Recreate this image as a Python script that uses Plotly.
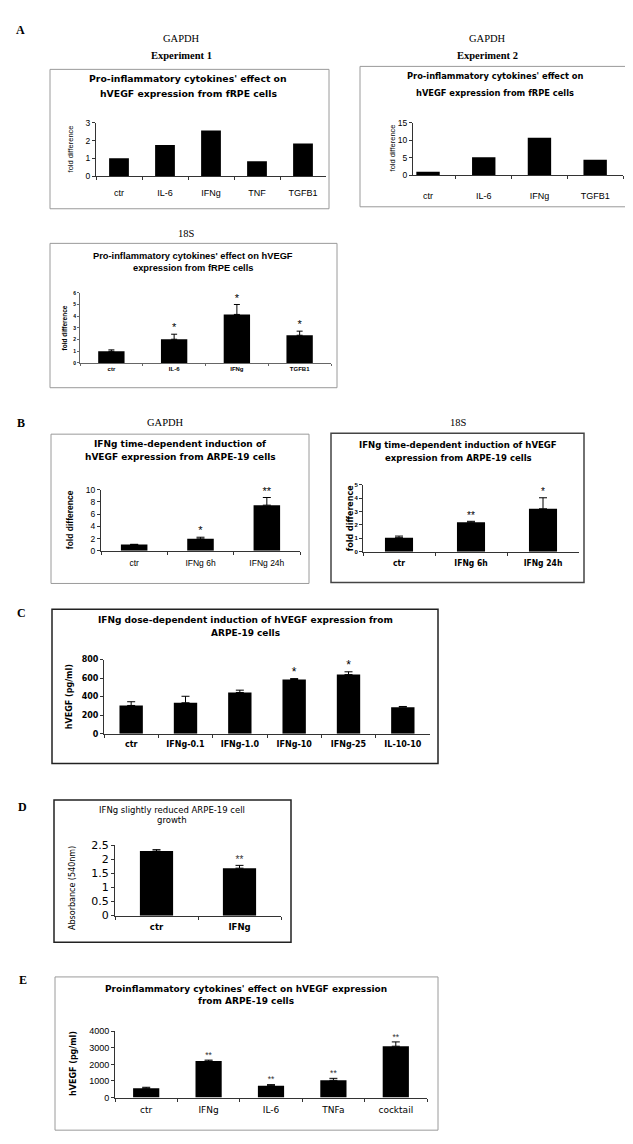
import plotly.graph_objects as go

W, H = 633, 1144

# ---------------- data ----------------
A1_categories = ["ctr", "IL-6", "IFNg", "TNF", "TGFB1"]
A1_values = [1.0, 1.75, 2.57, 0.83, 1.83]

A2_categories = ["ctr", "IL-6", "IFNg", "TGFB1"]
A2_values = [1.0, 5.1, 10.7, 4.4]

A3_categories = ["ctr", "IL-6", "IFNg", "TGFB1"]
A3_values = [1.0, 2.03, 4.15, 2.37]
A3_errors = [0.12, 0.43, 0.85, 0.35]
A3_sig = ["", "*", "*", "*"]

B1_categories = ["ctr", "IFNg 6h", "IFNg 24h"]
B1_values = [1.05, 1.95, 7.45]
B1_errors = [0.0, 0.27, 1.25]
B1_sig = ["", "*", "**"]

B2_categories = ["ctr", "IFNg 6h", "IFNg 24h"]
B2_values = [1.05, 2.2, 3.2]
B2_errors = [0.12, 0.07, 0.82]
B2_sig = ["", "**", "*"]

C_categories = ["ctr", "IFNg-0.1", "IFNg-1.0", "IFNg-10", "IFNg-25", "IL-10-10"]
C_values = [305, 334, 445, 585, 638, 287]
C_errors = [40, 70, 25, 10, 30, 7]
C_sig = ["", "", "", "*", "*", ""]

D_categories = ["ctr", "IFNg"]
D_values = [2.3, 1.69]
D_errors = [0.05, 0.1]
D_sig = ["", "**"]

E_categories = ["ctr", "IFNg", "IL-6", "TNFa", "cocktail"]
E_values = [560, 2200, 720, 1040, 3100]
E_errors = [60, 60, 60, 120, 260]
E_sig = ["", "**", "**", "**", "**"]

SANS = "Liberation Sans, Arial, sans-serif"
DJV = "DejaVu Sans, Verdana, sans-serif"
NARROW = "Liberation Sans Narrow, DejaVu Sans Condensed, Arial Narrow, sans-serif"
SERIF = "Liberation Serif, Times New Roman, serif"


def X(px):
    return px / W


def Y(py):
    return 1 - py / H


def F(size, family=SANS, bold=False, color="black"):
    return dict(size=size, family=family, color=color,
                weight="bold" if bold else "normal")


fig = go.Figure()
annotations = []
shapes = []
layout_axes = {}


def add_panel(i, cats, vals, errs, sig, xdom, ydom, yrange, dtick, xrange,
              barw, tickfont, catfont, capw=3, ticklen=3, catstand=0,
              sigfont=None, axcolor="#333"):
    xa = "x" if i == 1 else f"x{i}"
    ya = "y" if i == 1 else f"y{i}"
    xkey = "xaxis" if i == 1 else f"xaxis{i}"
    ykey = "yaxis" if i == 1 else f"yaxis{i}"
    bar = go.Bar(
        x=cats, y=vals, xaxis=xa, yaxis=ya, width=barw,
        marker=dict(color="black", line=dict(width=0)),
        showlegend=False,
    )
    if errs is not None:
        bar.error_y = dict(type="data", array=errs, arrayminus=[0] * len(errs),
                           symmetric=False, color="black", thickness=1, width=capw)
    fig.add_trace(bar)
    if sig is not None:
        fig.add_trace(go.Scatter(
            x=cats, y=[v + e for v, e in zip(vals, errs)], xaxis=xa, yaxis=ya,
            mode="text", text=sig, textposition="top center",
            textfont=sigfont, cliponaxis=False, showlegend=False,
            hoverinfo="skip"))
    layout_axes[xkey] = dict(
        domain=[X(xdom[0]), X(xdom[1])], anchor=ya, type="category",
        range=xrange, showline=True, linecolor=axcolor, linewidth=1,
        ticks="outside", tickson="boundaries", ticklen=ticklen,
        tickcolor=axcolor, tickfont=catfont, showgrid=False, zeroline=False,
        fixedrange=True, ticklabelstandoff=catstand)
    layout_axes[ykey] = dict(
        domain=[Y(ydom[1]), Y(ydom[0])], anchor=xa, range=yrange,
        dtick=dtick, tick0=0, showline=True, linecolor=axcolor, linewidth=1,
        ticks="outside", ticklen=ticklen, tickcolor=axcolor, tickfont=tickfont,
        showgrid=False, zeroline=False, fixedrange=True)


def text(x, y, s, font, angle=0):
    annotations.append(dict(
        x=X(x), y=Y(y), xref="paper", yref="paper", text=s, showarrow=False,
        xanchor="center", yanchor="middle", textangle=angle, font=font))


def box(x0, y0, x1, y1, color, width=1):
    shapes.append(dict(type="rect", xref="paper", yref="paper",
                       x0=X(x0), x1=X(x1), y0=Y(y1), y1=Y(y0),
                       line=dict(color=color, width=width), fillcolor="rgba(0,0,0,0)"))


GRAY = "#9a9a9a"

# ---------- Panel A1 ----------
box(42, 56, 321, 197, GRAY)
add_panel(1, A1_categories, A1_values, None, None, (88, 318), (110, 164),
          [0, 3], 1, [-0.5, 4.5], 0.43,
          F(8.5), F(9), catstand=8)
text(180, 65, "Pro-inflammatory cytokines' effect on", F(9.3, DJV, True))
text(180, 80, "hVEGF expression from fRPE cells", F(9.3, DJV, True))
text(62, 137, "fold difference", F(7.5), angle=-90)

# ---------- Panel A2 ----------
box(352, 53, 618, 195, GRAY)
add_panel(2, A2_categories, A2_values, None, None, (405, 615), (110, 163),
          [0, 15], 5, [-0.27, 3.5], 0.42,
          F(8.5), F(9), catstand=12)
text(487, 63, "Pro-inflammatory cytokines' effect on", F(8.3, DJV, True))
text(487, 80, "hVEGF expression from fRPE cells", F(8.3, DJV, True))
text(384, 136, "fold difference", F(7.5), angle=-90)

# ---------- Panel A3 ----------
box(42, 232, 329, 378, GRAY)
add_panel(3, A3_categories, A3_values, A3_errors, A3_sig, (72, 323), (282, 353),
          [0, 6], 1, [-0.5, 3.5], 0.42,
          F(5, SANS, True), F(6, SANS, True), capw=3, ticklen=2, catstand=0,
          sigfont=F(11), axcolor="#666")
text(185, 245, "Pro-inflammatory cytokines' effect on hVEGF", F(9.3, SANS, True))
text(185, 257, "expression from fRPE cells", F(9.3, SANS, True))
text(56, 318, "fold difference", F(6.5, SANS, True), angle=-90)

# ---------- Panel B1 ----------
box(43, 425, 301, 576, GRAY)
add_panel(4, B1_categories, B1_values, B1_errors, B1_sig, (93, 292), (481, 543),
          [0, 10], 2, [-0.5, 2.5], 0.4,
          F(8.5), F(8.5), capw=4, catstand=4, sigfont=F(11))
text(172, 435, "IFNg time-dependent induction of", F(9, DJV, True))
text(172, 448, "hVEGF expression from ARPE-19 cells", F(9, DJV, True))
text(62, 512, "fold difference", F(8.5, SANS, True), angle=-90)

# ---------- Panel B2 ----------
box(323, 424, 576, 575, "#444", 1.5)
add_panel(5, B2_categories, B2_values, B2_errors, B2_sig, (355, 571), (476, 544),
          [0, 5], 1, [-0.5, 2.5], 0.39,
          F(6, SANS, True), F(8.5, NARROW, True), capw=4, ticklen=3,
          catstand=3, sigfont=F(10))
text(450, 435, "IFNg time-dependent induction of hVEGF", F(9.5, NARROW, True))
text(450, 449, "expression from ARPE-19 cells", F(9.5, NARROW, True))
text(342, 510, "fold difference", F(8, DJV, True), angle=-90)

# ---------- Panel C ----------
box(44, 602, 430, 758, "#222", 1.5)
add_panel(6, C_categories, C_values, C_errors, C_sig, (96, 422), (653, 728),
          [0, 800], 200, [-0.5, 5.5], 0.43,
          F(8, DJV, True), F(8, DJV, True), capw=4, ticklen=3,
          catstand=3, sigfont=F(12))
text(237, 613, "IFNg dose-dependent induction of hVEGF expression from", F(9, DJV, True))
text(237, 626, "ARPE-19 cells", F(9, DJV, True))
text(61, 691, "hVEGF (pg/ml)", F(8, DJV, True), angle=-90)

# ---------- Panel D ----------
box(46, 795, 283, 939, "#222", 1.5)
add_panel(7, D_categories, D_values, D_errors, D_sig, (107, 273), (841, 912),
          [0, 2.5], 0.5, [-0.5, 1.5], 0.4,
          F(11, DJV), F(8.5, DJV, True), capw=4, ticklen=3, catstand=3,
          sigfont=F(10, SANS, False, "#333"))
text(164, 805, "IFNg slightly reduced ARPE-19 cell", F(8.5, DJV))
text(164, 815, "growth", F(8.5, DJV))
text(65, 884, "Absorbance (540nm)", F(8, DJV), angle=-90)

# ---------- Panel E ----------
box(47, 974, 430, 1129, GRAY)
add_panel(8, E_categories, E_values, E_errors, E_sig, (107, 419), (1029, 1096),
          [0, 4000], 1000, [-0.5, 4.5], 0.42,
          F(9), F(9, DJV), capw=4, ticklen=3, catstand=4,
          sigfont=F(8.5, SANS, False, "#333"))
text(238, 986, "Proinflammatory cytokines' effect on hVEGF expression", F(9, DJV, True))
text(238, 998, "from ARPE-19 cells", F(9, DJV, True))
text(66, 1062, "hVEGF (pg/ml)", F(8, DJV, True), angle=-90)

# ---------- outer labels ----------
text(12, 16, "A", F(12, SERIF, True))
text(173, 25, "GAPDH", F(10.5, SERIF))
text(173, 42, "Experiment 1", F(10.5, SERIF, True))
text(480, 25, "GAPDH", F(10.5, SERIF))
text(480, 42, "Experiment 2", F(10.5, SERIF, True))
text(178, 222, "18S", F(10.5, SERIF))
text(13, 414, "B", F(12, SERIF, True))
text(157, 413, "GAPDH", F(10.5, SERIF))
text(450, 413, "18S", F(10.5, SERIF))
text(13, 606, "C", F(12, SERIF, True))
text(14, 802, "D", F(12, SERIF, True))
text(15, 977, "E", F(12, SERIF, True))

fig.update_layout(
    width=W, height=H, margin=dict(l=0, r=0, t=0, b=0),
    paper_bgcolor="white", plot_bgcolor="white",
    annotations=annotations, shapes=shapes,
    font=dict(family=SANS, color="black"),
    **layout_axes)

fig.write_html("out.html")
